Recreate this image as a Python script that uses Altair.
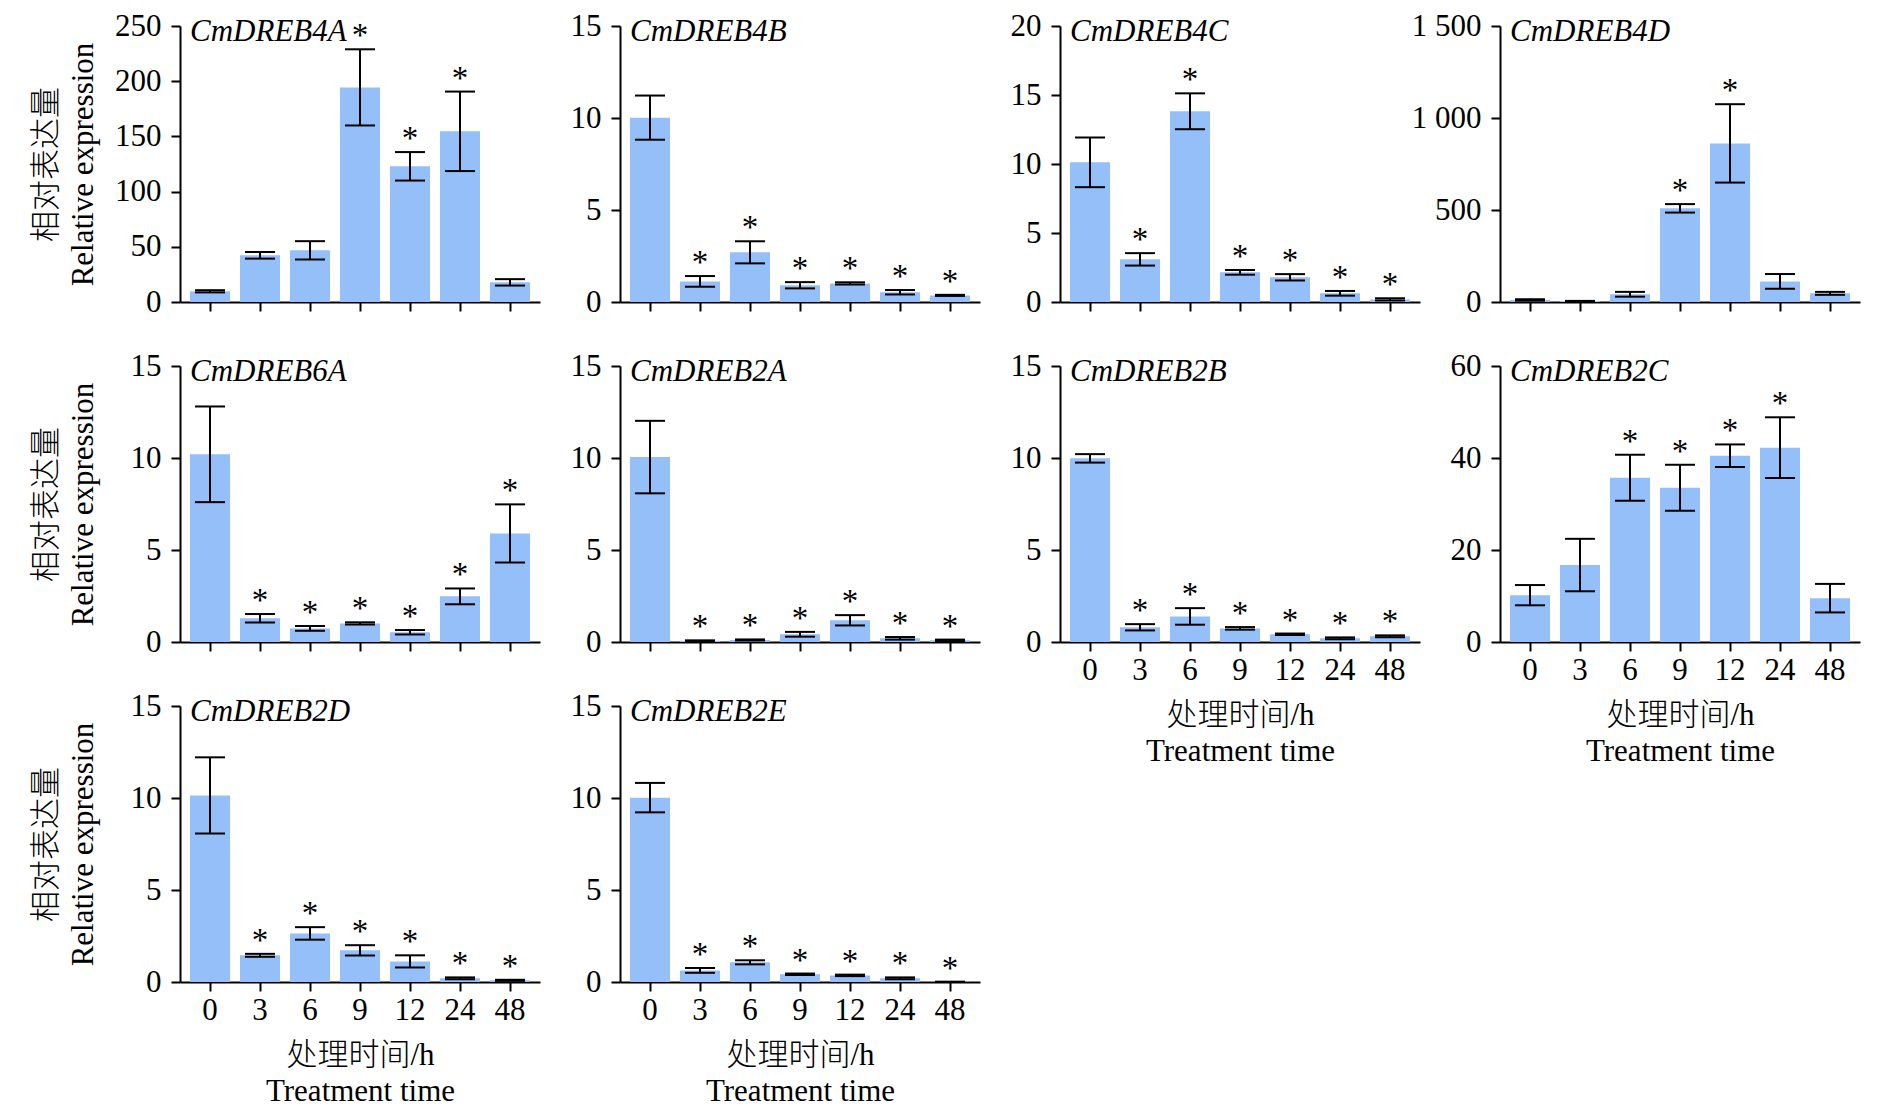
import altair as alt
import pandas as pd

FONT = "Liberation Serif, Noto Sans CJK SC, serif"
BAR_COLOR = "#94BFF8"
FS = 31

times = ["0", "3", "6", "9", "12", "24", "48"]

genes = ["CmDREB4A", "CmDREB4B", "CmDREB4C", "CmDREB4D", "CmDREB6A",
         "CmDREB2A", "CmDREB2B", "CmDREB2C", "CmDREB2D", "CmDREB2E"]

mean_4a = [9.7, 42.3, 46.8, 194.4, 122.9, 154.6, 17.8]
err_4a = [1.0, 3.0, 8.3, 34.5, 12.9, 36.0, 2.9]
star_4a = [0, 0, 0, 1, 1, 1, 0]

mean_4b = [10.02, 1.12, 2.70, 0.91, 1.01, 0.53, 0.36]
err_4b = [1.2, 0.29, 0.6, 0.17, 0.06, 0.12, 0.03]
star_4b = [0, 1, 1, 1, 1, 1, 1]

mean_4c = [10.12, 3.09, 13.82, 2.15, 1.79, 0.63, 0.19]
err_4c = [1.8, 0.45, 1.3, 0.17, 0.23, 0.17, 0.08]
star_4c = [0, 1, 1, 1, 1, 1, 1]

mean_4d = [11, 5, 42, 509, 862, 112, 47]
err_4d = [4, 1, 13, 23, 213, 40, 8]
star_4d = [0, 0, 0, 1, 1, 0, 0]

mean_6a = [10.2, 1.29, 0.74, 1.01, 0.53, 2.48, 5.9]
err_6a = [2.6, 0.23, 0.13, 0.06, 0.12, 0.43, 1.58]
star_6a = [0, 1, 1, 1, 1, 1, 1]

mean_2a = [10.05, 0.07, 0.11, 0.42, 1.18, 0.20, 0.09]
err_2a = [1.97, 0.02, 0.03, 0.13, 0.28, 0.07, 0.04]
star_2a = [0, 1, 1, 1, 1, 1, 1]

mean_2b = [9.98, 0.80, 1.39, 0.74, 0.42, 0.20, 0.31]
err_2b = [0.23, 0.17, 0.45, 0.07, 0.04, 0.05, 0.05]
star_2b = [0, 1, 1, 1, 1, 1, 1]

mean_2c = [10.18, 16.73, 35.71, 33.53, 40.5, 42.25, 9.53]
err_2c = [2.2, 5.7, 5.0, 5.0, 2.45, 6.6, 3.1]
star_2c = [0, 0, 1, 1, 1, 1, 0]

mean_2d = [10.14, 1.45, 2.64, 1.72, 1.12, 0.20, 0.09]
err_2d = [2.07, 0.08, 0.34, 0.28, 0.33, 0.05, 0.03]
star_2d = [0, 1, 1, 1, 1, 1, 1]

mean_2e = [10.02, 0.63, 1.07, 0.42, 0.36, 0.20, 0.01]
err_2e = [0.8, 0.13, 0.11, 0.04, 0.04, 0.05, 0.0]
star_2e = [0, 1, 1, 1, 1, 1, 1]

y_max = [250, 15, 20, 1500, 15, 15, 15, 60, 15, 15]
y_ticks = [
    [0, 50, 100, 150, 200, 250],
    [0, 5, 10, 15],
    [0, 5, 10, 15, 20],
    [0, 500, 1000, 1500],
    [0, 5, 10, 15],
    [0, 5, 10, 15],
    [0, 5, 10, 15],
    [0, 20, 40, 60],
    [0, 5, 10, 15],
    [0, 5, 10, 15],
]

y_title = ["相对表达量", "Relative expression"]
x_title = ["处理时间/h", "Treatment time"]

series = [
    (mean_4a, err_4a, star_4a), (mean_4b, err_4b, star_4b),
    (mean_4c, err_4c, star_4c), (mean_4d, err_4d, star_4d),
    (mean_6a, err_6a, star_6a), (mean_2a, err_2a, star_2a),
    (mean_2b, err_2b, star_2b), (mean_2c, err_2c, star_2c),
    (mean_2d, err_2d, star_2d), (mean_2e, err_2e, star_2e),
]

W, H = 360, 276
show_xlabels = [False, False, False, False, False, False, True, True, True, True]
show_ytitle = [True, False, False, False, True, False, False, False, True, False]


def panel(i):
    mean, err, star = series[i]
    df = pd.DataFrame({"t": times, "m": mean, "e": err, "s": star})
    df["lo"] = (df["m"] - df["e"]).clip(lower=0)
    df["hi"] = df["m"] + df["e"]

    yscale = alt.Scale(domain=[0, y_max[i]], nice=False, zero=True)
    xscale = alt.Scale(domain=times, paddingInner=0.2, paddingOuter=0.2)

    xaxis_kw = dict(labelAngle=0, tickSize=9, labelPadding=4, grid=False,
                    labelFontSize=FS, labels=show_xlabels[i])
    if show_xlabels[i]:
        xaxis_kw.update(title=x_title, titleFontSize=FS, titleFontWeight=300,
                        titleLineHeight=36, titleY=58)
    else:
        xaxis_kw.update(title=None)

    yaxis_kw = dict(values=y_ticks[i], tickSize=9, labelPadding=10, grid=False,
                    labelFontSize=FS)
    if y_max[i] >= 1000:
        yaxis_kw.update(labelExpr="replace(format(datum.value, ','), ',', ' ')")
    if show_ytitle[i]:
        yaxis_kw.update(title=y_title, titleFontSize=FS, titleFontWeight=300,
                        titleLineHeight=37, titleX=-118, titleY=H / 2)
    else:
        yaxis_kw.update(title=None)

    base = alt.Chart(df)
    x = alt.X("t:N", sort=times, scale=xscale, axis=alt.Axis(**xaxis_kw))

    bars = base.mark_bar(color=BAR_COLOR).encode(
        x=x, y=alt.Y("m:Q", scale=yscale, axis=alt.Axis(**yaxis_kw)))
    rule = base.mark_rule(color="black", strokeWidth=2).encode(
        x=alt.X("t:N", sort=times, scale=xscale),
        y=alt.Y("lo:Q", scale=yscale), y2="hi:Q")
    cap_lo = base.mark_tick(color="black", size=30, thickness=2, opacity=1).encode(
        x=alt.X("t:N", sort=times, scale=xscale), y=alt.Y("lo:Q", scale=yscale))
    cap_hi = base.mark_tick(color="black", size=30, thickness=2, opacity=1).encode(
        x=alt.X("t:N", sort=times, scale=xscale), y=alt.Y("hi:Q", scale=yscale))
    stars = base.transform_filter(alt.datum.s == 1).mark_text(
        text="*", fontSize=33, font=FONT, baseline="alphabetic", dy=-3, color="black"
    ).encode(x=alt.X("t:N", sort=times, scale=xscale), y=alt.Y("hi:Q", scale=yscale))
    label = alt.Chart(pd.DataFrame({"g": [genes[i]]})).mark_text(
        font=FONT, fontSize=FS, fontStyle="italic", align="left", baseline="middle",
        color="black"
    ).encode(text="g:N", x=alt.value(10), y=alt.value(6))

    return alt.layer(bars, rule, cap_lo, cap_hi, stars, label).properties(
        width=W, height=H)


panels = [panel(i) for i in range(len(genes))]

chart = alt.concat(*panels, columns=4, spacing=alt.RowColnumber(row=64, column=80)).properties(
    bounds="flush",
    padding={"left": 22, "top": 2, "right": 10, "bottom": 10},
).resolve_scale(x="independent", y="independent").configure_view(
    strokeWidth=0
).configure_axis(
    domainColor="black", domainWidth=2, tickColor="black", tickWidth=2,
    labelColor="black", titleColor="black", labelFont=FONT, titleFont=FONT,
).configure_text(font=FONT)

chart.save("out.html", embed_options={"renderer": "svg", "actions": False})
